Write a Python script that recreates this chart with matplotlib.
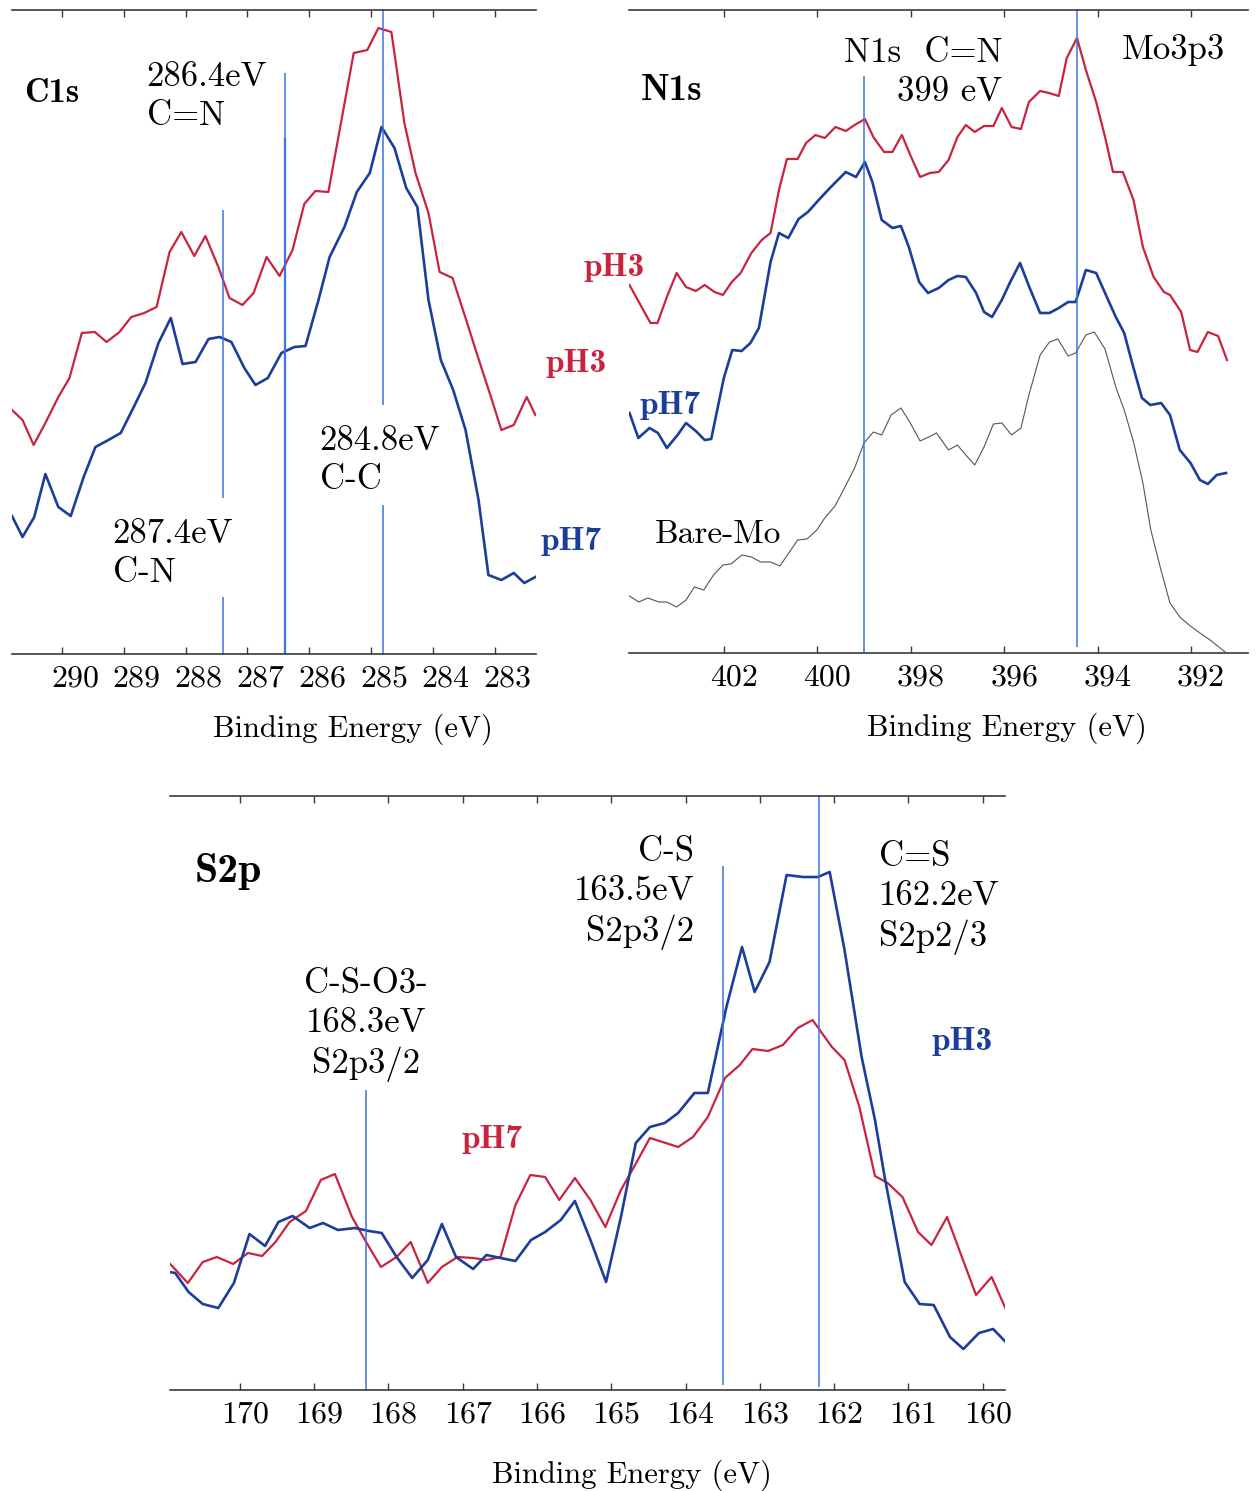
import matplotlib
matplotlib.use("Agg")
import matplotlib.pyplot as plt
from matplotlib.transforms import ScaledTranslation

# === DATA (binding energy in eV, intensity in arbitrary units) ===
c1s_ev_ph3 = [290.81, 290.64, 290.46, 290.27, 290.06, 289.88, 289.68, 289.47, 289.28, 289.07,
              288.88, 288.67, 288.47, 288.26, 288.07, 287.86, 287.68, 287.47, 287.29, 287.08,
              286.90, 286.69, 286.48, 286.27, 286.08, 285.90, 285.69, 285.28, 285.06, 284.88,
              284.67, 284.46, 284.28, 284.07, 283.89, 283.68, 283.47, 283.28, 283.08, 282.89,
              282.69, 282.48, 282.34]
c1s_int_ph3 = [244, 234, 209, 231, 257, 276, 321, 322, 312, 322,
               337, 341, 347, 402, 422, 398, 418, 387, 356, 349,
               361, 397, 378, 404, 450, 463, 462, 601, 604, 626,
               622, 531, 481, 441, 382, 376, 336, 299, 261, 224,
               229, 257, 239]
c1s_ev_ph7 = [290.81, 290.64, 290.45, 290.27, 290.06, 289.86, 289.65, 289.46, 289.25, 289.05,
              288.84, 288.65, 288.44, 288.24, 288.05, 287.84, 287.63, 287.45, 287.26, 287.05,
              286.87, 286.67, 286.45, 286.24, 286.06, 285.85, 285.67, 285.43, 285.23, 285.02,
              284.83, 284.62, 284.43, 284.25, 284.07, 283.87, 283.67, 283.47, 283.26, 283.10,
              282.89, 282.69, 282.52, 282.34]
c1s_int_ph7 = [138, 117, 137, 180, 147, 138, 177, 207, 214, 221,
               247, 271, 311, 336, 290, 292, 315, 317, 312, 286,
               269, 276, 301, 307, 308, 354, 397, 427, 462, 481,
               527, 506, 466, 447, 354, 294, 264, 224, 154, 79,
               74, 81, 71, 77]

n1s_ev_ph3 = [404.02, 403.76, 403.57, 403.42, 403.22, 403.01, 402.81, 402.60, 402.41, 402.20,
              402.02, 401.83, 401.64, 401.41, 401.19, 401.00, 400.82, 400.65, 400.42, 400.24,
              400.04, 399.84, 399.61, 399.39, 399.20, 398.98, 398.80, 398.57, 398.39, 398.19,
              397.99, 397.80, 397.59, 397.40, 397.19, 397.00, 396.82, 396.63, 396.43, 396.23,
              396.05, 395.84, 395.64, 395.47, 395.23, 395.04, 394.83, 394.66, 394.44, 394.25,
              394.03, 393.84, 393.67, 393.46, 393.23, 393.03, 392.80, 392.58, 392.45, 392.21,
              392.02, 391.86, 391.64, 391.42, 391.23]
n1s_int_ph3 = [368, 346, 330, 330, 356, 380, 366, 362, 368, 361,
               358, 371, 380, 400, 413, 420, 463, 494, 494, 510,
               518, 515, 526, 522, 528, 534, 516, 501, 501, 518,
               496, 476, 480, 481, 493, 516, 528, 521, 527, 527,
               545, 526, 524, 551, 562, 560, 557, 595, 615, 583,
               551, 516, 481, 481, 453, 406, 376, 361, 358, 341,
               303, 301, 321, 317, 293]
n1s_ev_ph7 = [404.02, 403.83, 403.59, 403.41, 403.22, 402.99, 402.81, 402.60, 402.41, 402.27,
              402.00, 401.82, 401.62, 401.43, 401.25, 401.00, 400.82, 400.62, 400.40, 400.20,
              399.97, 399.75, 399.56, 399.39, 399.17, 398.98, 398.82, 398.62, 398.39, 398.21,
              398.04, 397.82, 397.63, 397.40, 397.19, 397.00, 396.82, 396.60, 396.43, 396.26,
              396.05, 395.88, 395.66, 395.47, 395.23, 395.03, 394.83, 394.63, 394.47, 394.25,
              394.03, 393.84, 393.61, 393.43, 393.26, 393.05, 392.87, 392.64, 392.45, 392.24,
              392.01, 391.81, 391.64, 391.45, 391.25]
n1s_int_ph7 = [240, 215, 225, 220, 205, 218, 230, 222, 213, 214,
               275, 303, 302, 310, 325, 391, 420, 415, 434, 441,
               453, 464, 473, 481, 476, 491, 471, 433, 425, 427,
               406, 371, 360, 365, 373, 377, 376, 360, 341, 336,
               353, 370, 390, 367, 340, 340, 345, 351, 351, 383,
               380, 360, 336, 320, 290, 255, 248, 250, 238, 203,
               190, 173, 169, 178, 180]
n1s_ev_bare = [404.02, 403.82, 403.63, 403.39, 403.22, 403.01, 402.81, 402.63, 402.43, 402.22,
               402.02, 401.85, 401.61, 401.41, 401.21, 401.00, 400.80, 400.61, 400.42, 400.22,
               400.01, 399.84, 399.62, 399.43, 399.20, 399.00, 398.80, 398.62, 398.42, 398.21,
               398.02, 397.80, 397.61, 397.45, 397.19, 397.00, 396.82, 396.63, 396.43, 396.23,
               396.05, 395.84, 395.64, 395.47, 395.23, 395.03, 394.85, 394.63, 394.47, 394.25,
               394.07, 393.84, 393.61, 393.43, 393.23, 393.03, 392.86, 392.66, 392.45, 392.24,
               392.04, 391.81, 391.59, 391.27]
n1s_int_bare = [57, 51, 55, 51, 51, 46, 53, 66, 63, 78,
                88, 89, 98, 96, 91, 91, 87, 100, 113, 114,
                123, 135, 147, 164, 185, 210, 221, 218, 238, 245,
                231, 212, 216, 220, 203, 208, 198, 188, 206, 229,
                230, 218, 225, 258, 298, 311, 314, 297, 300, 318,
                321, 304, 266, 243, 211, 170, 123, 86, 50, 36,
                28, 20, 13, 1]

s2p_ev_ph7 = [170.95, 170.70, 170.50, 170.31, 170.09, 169.89, 169.70, 169.52, 169.33, 169.11,
              168.91, 168.72, 168.49, 168.30, 168.10, 167.89, 167.70, 167.47, 167.28, 167.07,
              166.86, 166.68, 166.49, 166.29, 166.09, 165.89, 165.70, 165.49, 165.28, 165.08,
              164.87, 164.68, 164.48, 164.31, 164.10, 163.90, 163.70, 163.47, 163.27, 163.10,
              162.89, 162.69, 162.49, 162.29, 162.03, 161.86, 161.66, 161.45, 161.28, 161.08,
              160.87, 160.69, 160.48, 160.28, 160.09, 159.88, 159.69]
s2p_int_ph7 = [127, 107, 128, 133, 126, 137, 134, 148, 168, 179,
               210, 216, 173, 148, 123, 133, 148, 107, 123, 133,
               132, 130, 133, 185, 215, 213, 190, 212, 190, 163,
               200, 225, 252, 248, 243, 253, 273, 312, 325, 341,
               339, 345, 362, 370, 343, 330, 283, 214, 207, 193,
               158, 145, 173, 133, 95, 113, 81]
s2p_ev_ph3 = [170.95, 170.87, 170.69, 170.50, 170.29, 170.08, 169.87, 169.66, 169.48, 169.29,
              169.06, 168.88, 168.68, 168.45, 168.26, 168.09, 167.89, 167.68, 167.47, 167.28,
              167.09, 166.86, 166.68, 166.49, 166.29, 166.08, 165.89, 165.68, 165.49, 165.28,
              165.07, 164.87, 164.67, 164.48, 164.28, 164.10, 163.88, 163.70, 163.45, 163.24,
              163.07, 162.87, 162.64, 162.42, 162.22, 162.06, 161.86, 161.63, 161.45, 161.32,
              161.05, 160.85, 160.66, 160.44, 160.26, 160.05, 159.86, 159.69]
s2p_int_ph3 = [118, 117, 98, 86, 82, 107, 156, 144, 168, 174,
               162, 167, 160, 162, 159, 157, 133, 112, 130, 166,
               133, 121, 135, 132, 129, 150, 158, 170, 189, 150,
               108, 173, 247, 263, 267, 277, 297, 297, 383, 443,
               398, 428, 515, 513, 513, 518, 440, 333, 270, 213,
               108, 86, 85, 53, 41, 57, 61, 48]

# reference peak positions (eV)
c1s_peaks = [287.4, 286.4, 284.8]
n1s_peaks = [399.0, 394.45]
s2p_peaks = [168.3, 163.5, 162.2]

# === STYLE ===
RED = "#c9243f"
BLUE = "#1c3e9a"
GREY = "#555555"
MARK = "#3d74d8"
AXC = "#3a3a3a"
SERIF = "cmr10"
BOLD = "cmb10"
ANN = 25      # peak annotation size
TICK = 23
XLAB = 22

plt.rcParams["axes.unicode_minus"] = False

fig = plt.figure(figsize=(12.6, 14.91), dpi=100)
W, H = 1260.0, 1491.0


def make_axes(left, right, top, bottom, xlim, ylim, ticks, label_dx, xlabel_x, labelpad):
    ax = fig.add_axes([left / W, 1 - bottom / H, (right - left) / W, (bottom - top) / H])
    ax.set_xlim(*xlim)
    ax.set_ylim(*ylim)
    for side in ("left", "right"):
        ax.spines[side].set_visible(False)
    for side in ("top", "bottom"):
        ax.spines[side].set_color(AXC)
        ax.spines[side].set_linewidth(1.2)
    ax.set_yticks([])
    ax.set_xticks(ticks)
    ax.set_xticklabels([str(t) for t in ticks], fontfamily=SERIF, fontsize=TICK)
    ax.tick_params(axis="x", direction="in", top=True, length=5, width=1,
                   color=AXC, pad=8)
    # labels sit a little right of their tick marks
    for lab in ax.get_xticklabels():
        lab.set_transform(lab.get_transform() +
                          ScaledTranslation(label_dx / 100.0, 0, fig.dpi_scale_trans))
    ax.set_xlabel("Binding Energy (eV)", fontfamily=SERIF, fontsize=XLAB, labelpad=labelpad)
    ax.xaxis.label.set_x(xlabel_x)
    ax.patch.set_alpha(0)
    return ax


# --- C1s ---
ax1 = make_axes(12, 536, 10, 654, (290.81, 282.33), (0, 644),
                [290, 289, 288, 287, 286, 285, 284, 283], 13, 0.651, 15)
ax1.plot(c1s_ev_ph3, c1s_int_ph3, color=RED, lw=1.6)
ax1.plot(c1s_ev_ph7, c1s_int_ph7, color=BLUE, lw=1.9)
ax1.vlines(c1s_peaks[0], 156, 444, color=MARK, lw=1.1)
ax1.vlines(c1s_peaks[0], 0, 57, color=MARK, lw=1.1)
ax1.vlines(c1s_peaks[1], 0, 581, color=MARK, lw=1.1)
ax1.vlines(c1s_peaks[1], 0, 516, color=MARK, lw=1.6)
ax1.vlines(c1s_peaks[2], 249, 644, color=MARK, lw=1.1)
ax1.vlines(c1s_peaks[2], 0, 149, color=MARK, lw=1.1)
ax1.text(290.62, 561, "C1s", fontfamily=BOLD, fontsize=24.5, va="center")
ax1.text(288.63, 557, "286.4eV\nC=N", fontfamily=SERIF, fontsize=ANN, va="center",
         linespacing=1.3)
ax1.text(285.83, 193, "284.8eV\nC-C", fontfamily=SERIF, fontsize=ANN, va="center",
         linespacing=1.3)
ax1.text(289.18, 100, "287.4eV\nC-N", fontfamily=SERIF, fontsize=ANN, va="center",
         linespacing=1.3)
ax1.text(282.18, 290, "pH3", fontfamily=BOLD, fontsize=24, color=RED, va="center")
ax1.text(282.26, 113, "pH7", fontfamily=BOLD, fontsize=24, color=BLUE, va="center")

# --- N1s ---
ax2 = make_axes(629, 1248, 10, 653, (404.03, 390.78), (0, 643),
                [402, 400, 398, 396, 394, 392], 10, 0.611, 15)
ax2.plot(n1s_ev_ph3, n1s_int_ph3, color=RED, lw=1.6)
ax2.plot(n1s_ev_ph7, n1s_int_ph7, color=BLUE, lw=1.9)
ax2.plot(n1s_ev_bare, n1s_int_bare, color=GREY, lw=0.8)
ax2.vlines(n1s_peaks[0], 0, 577, color=MARK, lw=1.1)
ax2.vlines(n1s_peaks[1], 6, 643, color=MARK, lw=1.1)
ax2.text(403.78, 562, "N1s", fontfamily=BOLD, fontsize=26.5, va="center")
ax2.text(396.03, 580, "N1s  C=N\n399 eV", fontfamily=SERIF, fontsize=ANN, va="center",
         ha="right", multialignment="right", linespacing=1.3)
ax2.text(393.48, 603, "Mo3p3", fontfamily=SERIF, fontsize=ANN, va="center")
ax2.text(405.0, 386, "pH3", fontfamily=BOLD, fontsize=24, color=RED, va="center")
ax2.text(403.80, 248, "pH7", fontfamily=BOLD, fontsize=24, color=BLUE, va="center")
ax2.text(403.48, 119, "Bare-Mo", fontfamily=SERIF, fontsize=24, va="center")

# --- S2p ---
ax3 = make_axes(170, 1005, 796, 1390, (170.94, 159.70), (0, 594),
                [170, 169, 168, 167, 166, 165, 164, 163, 162, 161, 160], 5, 0.553, 22)
ax3.plot(s2p_ev_ph7, s2p_int_ph7, color=RED, lw=1.6)
ax3.plot(s2p_ev_ph3, s2p_int_ph3, color=BLUE, lw=1.9)
ax3.vlines(s2p_peaks[0], -3, 300, color=MARK, lw=1.1)
ax3.vlines(s2p_peaks[1], 5, 524, color=MARK, lw=1.1)
ax3.vlines(s2p_peaks[2], 3, 594, color=MARK, lw=1.1)
ax3.text(170.61, 518, "S2p", fontfamily=BOLD, fontsize=30, va="center")
ax3.text(168.30, 365, "C-S-O3-\n168.3eV\nS2p3/2", fontfamily=SERIF, fontsize=ANN,
         va="center", ha="center", multialignment="center", linespacing=1.3)
ax3.text(163.88, 497, "C-S\n163.5eV\nS2p3/2", fontfamily=SERIF, fontsize=ANN,
         va="center", ha="right", multialignment="right", linespacing=1.3)
ax3.text(161.39, 492, "C=S\n162.2eV\nS2p2/3", fontfamily=SERIF, fontsize=ANN,
         va="center", ha="left", linespacing=1.3)
ax3.text(160.69, 349, "pH3", fontfamily=BOLD, fontsize=24, color=BLUE, va="center")
ax3.text(167.01, 251, "pH7", fontfamily=BOLD, fontsize=24, color=RED, va="center")

fig.savefig("out.png", dpi=100, facecolor="white")
